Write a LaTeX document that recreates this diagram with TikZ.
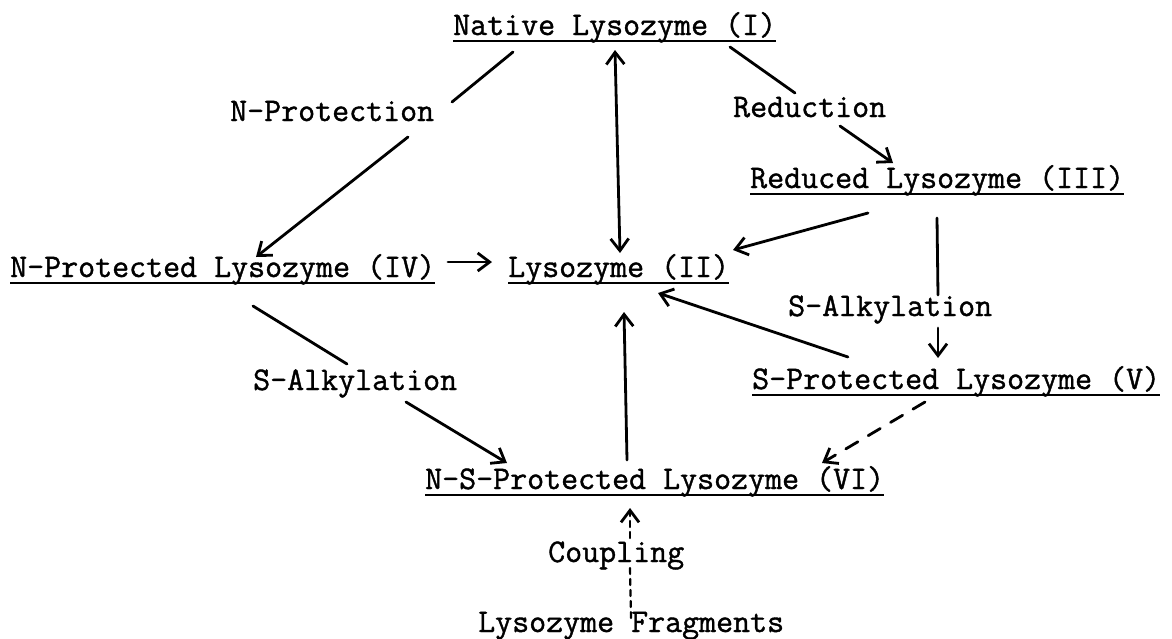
\documentclass[tikz,border=0pt]{standalone}
\usepackage{fontspec}
\setmonofont{Latin Modern Mono}[FakeBold=1.2]
\usetikzlibrary{arrows.meta}
\begin{document}
\begin{tikzpicture}[x=1pt,y=-1pt,
  lbl/.style={anchor=base west, inner sep=0pt, font=\ttfamily\fontsize{33}{36}\selectfont},
  ul/.style={line width=2.6pt},
  conn/.style={line width=2.8pt, line cap=round},
  tip/.style={-{Straight Barb[length=12pt,width=18pt,line width=2.8pt]}},
  dtip/.style={{Straight Barb[length=12pt,width=18pt,line width=2.8pt]}-{Straight Barb[length=12pt,width=18pt,line width=2.8pt]}},
  longdash/.style={dash pattern=on 14pt off 12pt},
  shortdash/.style={dash pattern=on 6pt off 5pt}
]
\useasboundingbox (0,0) rectangle (1172,638);

% compounds
\node[lbl] (nat)  at (453,35)  {Native Lysozyme (I)};
\node[lbl] (red)  at (750,188) {Reduced Lysozyme (III)};
\node[lbl] (npl)  at (10,277)  {N-Protected Lysozyme (IV)};
\node[lbl] (lys)  at (508,277) {Lysozyme (II)};
\node[lbl] (spl)  at (752,389) {S-Protected Lysozyme (V)};
\node[lbl] (nsp)  at (425,489) {N-S-Protected Lysozyme (VI)};
\node[lbl] (frag) at (478,632) {Lysozyme Fragments};

% reagents
\node[lbl] (nprot) at (230,121) {N-Protection};
\node[lbl] (redn)  at (733,117) {Reduction};
\node[lbl] (salkr) at (788,316) {S-Alkylation};
\node[lbl] (salkl) at (253,390) {S-Alkylation};
\node[lbl] (coup)  at (548,562) {Coupling};

% underlines
\foreach \n in {nat,red,npl,lys,spl,nsp}
  \draw[ul] ([yshift=-6pt]\n.base west) -- ([yshift=-6pt]\n.base east);

% connector end points
\coordinate (a1) at (513,52);  \coordinate (a2) at (452,102);
\coordinate (a3) at (408,137); \coordinate (a4) at (256,257);
\coordinate (b1) at (615,50);  \coordinate (b2) at (620,253);
\coordinate (c1) at (730,47);  \coordinate (c2) at (795,93);
\coordinate (c3) at (840,126); \coordinate (c4) at (893,163);
\coordinate (d1) at (868,213); \coordinate (d2) at (733,250);
\coordinate (e1) at (937,218); \coordinate (e2) at (938,295);
\coordinate (e3) at (938,328); \coordinate (e4) at (938,358);
\coordinate (f1) at (848,357); \coordinate (f2) at (658,293);
\coordinate (g1) at (925,402); \coordinate (g2) at (822,463);
\coordinate (h1) at (253,306); \coordinate (h2) at (347,364);
\coordinate (h3) at (406,402); \coordinate (h4) at (507,463);
\coordinate (i1) at (627,460); \coordinate (i2) at (624,312);
\coordinate (j1) at (448,262); \coordinate (j2) at (492,262);
\coordinate (k1) at (631,618); \coordinate (k2) at (630,568);
\coordinate (k3) at (630,538); \coordinate (k4) at (630,508);

% N-protection
\draw[conn] (a1) -- (a2);
\draw[conn,tip] (a3) -- (a4);
% native <-> lysozyme
\draw[conn,dtip] (b1) -- (b2);
% reduction
\draw[conn] (c1) -- (c2);
\draw[conn,tip] (c3) -- (c4);
% reduced -> lysozyme
\draw[conn,tip] (d1) -- (d2);
% reduced -> S-protected
\draw[conn] (e1) -- (e2);
\draw[conn,tip] (e3) -- (e4);
% S-protected -> lysozyme
\draw[conn,tip] (f1) -- (f2);
% S-protected -> N-S-protected (dashed)
\draw[conn,longdash,tip] (g1) -- (g2);
% N-protected -> N-S-protected
\draw[conn] (h1) -- (h2);
\draw[conn,tip] (h3) -- (h4);
% N-S-protected -> lysozyme
\draw[conn,tip] (i1) -- (i2);
% N-protected -> lysozyme
\draw[conn,tip] (j1) -- (j2);
% coupling
\draw[conn,shortdash,line width=2.2pt] (k1) -- (k2);
\draw[conn,shortdash,line width=2.2pt,tip] (k3) -- (k4);
\end{tikzpicture}
\end{document}
